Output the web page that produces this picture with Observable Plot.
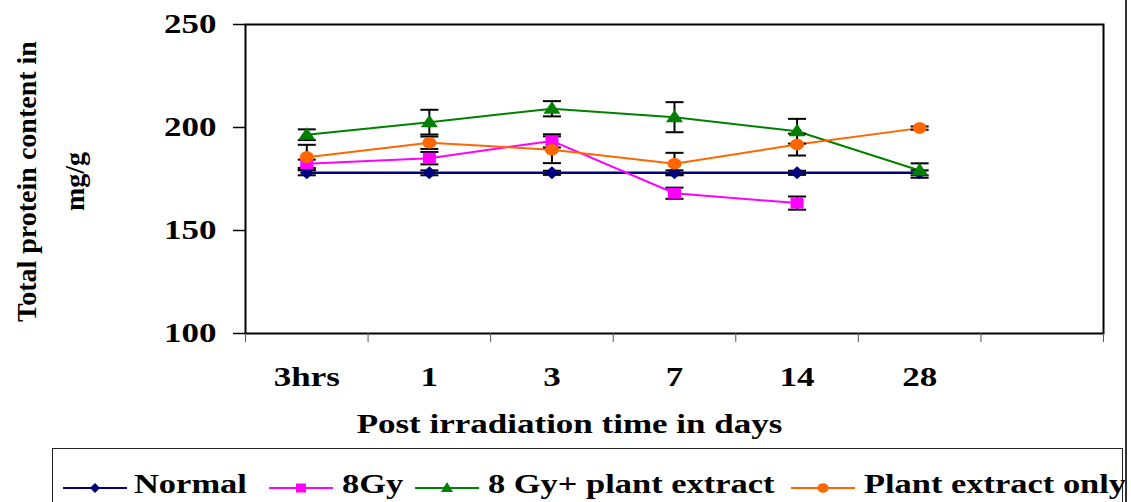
<!DOCTYPE html>
<html>
<head>
<meta charset="utf-8">
<script src="https://cdn.jsdelivr.net/npm/d3@7"></script>
<script src="https://cdn.jsdelivr.net/npm/@observablehq/plot@0.6"></script>
<style>
  html, body { margin: 0; padding: 0; background: #fff; }
  #wrap { position: relative; width: 1131px; height: 502px; overflow: hidden; background: #fff; }
  #chart { position: absolute; left: 0; top: 0; }
  #edge { position: absolute; left: 1125px; top: 0; width: 2px; height: 502px; background: #333; }
  #legend { position: absolute; left: 52px; top: 448px; width: 1071px; height: 70px;
            border: 1.5px solid #222; box-sizing: border-box; }
  .sw { position: absolute; top: 29px; width: 64px; height: 20px; }
  .lt { position: absolute; top: 21px; font: bold 28px "Liberation Serif", serif; line-height: 28px;
        white-space: nowrap; transform: scaleX(1.23); transform-origin: left center; color: #000; }
</style>
</head>
<body>
<div id="wrap">
  <div id="chart"></div>
  <div id="legend"></div>
  <div id="edge"></div>
</div>
<script>
// ---- data ----
const categories = ["3hrs", "1", "3", "7", "14", "28"];
const seriesNames = ["Normal", "8Gy", "8 Gy+ plant extract", "Plant extract only"];
const normal = [178, 178, 178, 178, 178, 178];
const normalErr = [1.2, 1.2, 1, 1.2, 1, 1.2];
const gy8 = [182.4, 185.1, 193.5, 168.1, 163.3];
const gy8Err = [2, 3, 3.2, 2.7, 3.2];
const gy8Plant = [196.5, 202.6, 209.1, 205, 198.2, 179.1];
const gy8PlantErr = [2.6, 6, 3.7, 7.3, 6, 3.5];
const plantOnly = [185.6, 192.6, 189.2, 182.4, 191.7, 199.7];
const plantOnlyErr = [6, 3, 6.5, 5.3, 5.3, 0.8];
const colors = ["#000080", "#FF00FF", "#008000", "#FF6600"];
const yTicks = [100, 150, 200, 250];

const values = [normal, gy8, gy8Plant, plantOnly];
const errors = [normalErr, gy8Err, gy8PlantErr, plantOnlyErr];

const rows = [];
values.forEach((vals, k) => {
  vals.forEach((v, i) => {
    rows.push({series: seriesNames[k], k, cat: categories[i], xp: i + 0.5, v, e: errors[k][i]});
  });
});
const caps = [];
rows.forEach(r => { caps.push({...r, yc: r.v - r.e}); caps.push({...r, yc: r.v + r.e}); });

// ---- custom symbols (pixel sized) ----
const symDiamond = {draw(c) { c.moveTo(0, -6.5); c.lineTo(7, 0); c.lineTo(0, 6.5); c.lineTo(-7, 0); c.closePath(); }};
const symSquare = {draw(c) { c.rect(-6.5, -5.5, 13, 11); }};
const symTriangle = {draw(c) { c.moveTo(0, -7.5); c.lineTo(8.5, 5); c.lineTo(-8.5, 5); c.closePath(); }};
const symEllipse = {draw(c) {
  const rx = 7, ry = 5.8, k = 0.5523;
  c.moveTo(rx, 0);
  c.bezierCurveTo(rx, ry * k, rx * k, ry, 0, ry);
  c.bezierCurveTo(-rx * k, ry, -rx, ry * k, -rx, 0);
  c.bezierCurveTo(-rx, -ry * k, -rx * k, -ry, 0, -ry);
  c.bezierCurveTo(rx * k, -ry, rx, -ry * k, rx, 0);
  c.closePath();
}};
const symCap = {draw(c) { c.moveTo(-9, 0); c.lineTo(9, 0); }};
const symbols = [symDiamond, symSquare, symTriangle, symEllipse];

const W = 1131, H = 447;
const plot = Plot.plot({
  width: W,
  height: H,
  marginLeft: 245,
  marginRight: 28,
  marginTop: 24,
  marginBottom: 114,
  style: {fontFamily: "'Liberation Serif', serif", fontWeight: "bold", fontSize: "28px", background: "white", color: "black"},
  x: {domain: [0, 7], label: null},
  y: {domain: [100, 250], label: null},
  color: {domain: seriesNames, range: colors},
  marks: [
    Plot.frame({stroke: "black", strokeWidth: 2}),
    Plot.axisX({ticks: d3.range(0, 8), tickSize: 9, tickFormat: () => "", stroke: "#555", strokeWidth: 1}),
    Plot.axisX({ticks: categories.map((c, i) => i + 0.5), tickSize: 0, tickPadding: 33,
                tickFormat: d => categories[Math.floor(d)], fontSize: 28}),
    Plot.axisY({ticks: yTicks, tickSize: 12, tickPadding: 17, fontSize: 28, strokeWidth: 1.5}),
    Plot.line(rows, {x: "xp", y: "v", z: "series", stroke: "series", strokeWidth: d => d.k === 0 ? 2.4 : 2}),
    Plot.ruleX(rows, {x: "xp", y1: d => d.v - d.e, y2: d => d.v + d.e, stroke: "black", strokeWidth: 2}),
    Plot.dot(caps, {x: "xp", y: "yc", symbol: symCap, stroke: "black", strokeWidth: 2, fill: "none"}),
    ...seriesNames.map((s, k) => Plot.dot(rows.filter(r => r.k === k), {x: "xp", y: "v", symbol: symbols[k], fill: colors[k]})),
    Plot.text(["Post irradiation time in days"], {frameAnchor: "bottom", dx: -105, dy: 91, lineAnchor: "middle", fontSize: 28, fontWeight: "bold"}),
    Plot.text(["Total protein content in"], {frameAnchor: "left", rotate: -90, dx: -218, dy: 2.5, lineAnchor: "middle", textAnchor: "middle", fontSize: 28, fontWeight: "bold"}),
    Plot.text(["mg/g"], {frameAnchor: "left", rotate: -90, dx: -170, dy: 2.5, lineAnchor: "middle", textAnchor: "middle", fontSize: 28, fontWeight: "bold"})
  ]
});

// horizontally widen the non-rotated texts to match the reference's stretched type
plot.querySelectorAll("text").forEach(t => {
  const tr = t.getAttribute("transform");
  if (tr && tr.includes("rotate")) return;
  if (tr) t.setAttribute("transform", tr + " scale(1.25,1)");
});
document.getElementById("chart").appendChild(plot);

// ---- legend ----
const legend = document.getElementById("legend");
const swLeft = [62, 268, 414, 790];
const txLeft = [133, 341, 487, 863];
const legendSyms = [
  c => `<path d="M32,5 L37,10 L32,15 L27,10 Z" fill="${c}"/>`,
  c => `<rect x="27" y="5.5" width="10" height="9" fill="${c}"/>`,
  c => `<path d="M32,4 L38,14 L26,14 Z" fill="${c}"/>`,
  c => `<ellipse cx="32" cy="10" rx="5.5" ry="4.8" fill="${c}"/>`
];
seriesNames.forEach((s, k) => {
  const sw = document.createElement("div");
  sw.className = "sw";
  sw.style.left = (swLeft[k] - 52) + "px";
  sw.innerHTML = `<svg width="64" height="20"><line x1="0" x2="64" y1="10" y2="10" stroke="${colors[k]}" stroke-width="2.2"/>${legendSyms[k](colors[k])}</svg>`;
  legend.appendChild(sw);
  const tx = document.createElement("div");
  tx.className = "lt";
  tx.style.left = (txLeft[k] - 52) + "px";
  tx.textContent = s;
  legend.appendChild(tx);
});
</script>
</body>
</html>
